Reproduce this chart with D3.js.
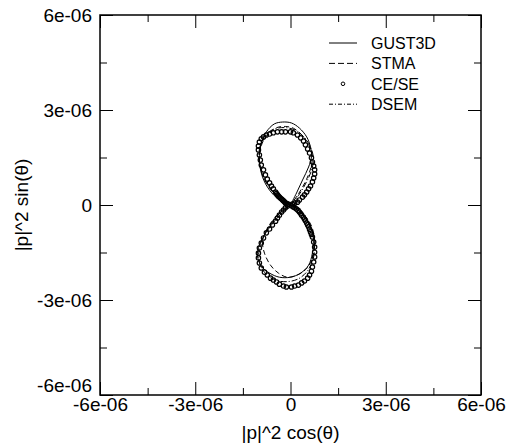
<!DOCTYPE html>
<html>
<head>
<meta charset="utf-8">
<script src="https://cdnjs.cloudflare.com/ajax/libs/d3/7.8.5/d3.min.js"></script>
<style>
    body { margin: 0; background: #fff; }
    text { font-family: "Liberation Sans", Arial, sans-serif; fill: #000; }
</style>
</head>
<body>
<script>
// values are in units of 1e-06 as [x, y]
var UNIT = 1e-6;

var tickValues = [-6, -3, 0, 3, 6];
var tickLabels = ["-6e-06", "-3e-06", "0", "3e-06", "6e-06"];
var minorTicks = [-4.5, -1.5, 1.5, 4.5];

var seriesNames = ["GUST3D", "STMA", "CE/SE", "DSEM"];

var gustUpper = [[0, 0], [-0.35, 0.16], [-0.66, 0.47], [-0.88, 0.88], [-0.98, 1.42], [-0.92, 1.96],
    [-0.76, 2.31], [-0.51, 2.56], [-0.25, 2.62], [0.03, 2.59], [0.28, 2.43], [0.51, 2.15],
    [0.63, 1.83], [0.66, 1.52], [0.57, 1.20], [0.38, 0.79], [0.19, 0.38], [0, 0]];
var gustLower = [[0, 0], [-0.19, -0.16], [-0.47, -0.47], [-0.76, -0.85], [-0.98, -1.26], [-1.04, -1.61],
    [-0.92, -1.93], [-0.66, -2.15], [-0.35, -2.28], [0, -2.28], [0.32, -2.15], [0.57, -1.90],
    [0.69, -1.52], [0.73, -1.11], [0.63, -0.69], [0.41, -0.35], [0.16, -0.09], [0, 0]];

var stmaUpper = [[0, 0], [-0.32, 0.16], [-0.63, 0.50], [-0.88, 0.95], [-0.98, 1.45], [-0.90, 1.93],
    [-0.70, 2.25], [-0.44, 2.44], [-0.16, 2.48], [0.10, 2.42], [0.35, 2.22], [0.55, 1.95],
    [0.68, 1.60], [0.66, 1.25], [0.50, 0.80], [0.25, 0.35], [0, 0]];
var stmaLower = [[0, 0], [-0.25, -0.16], [-0.55, -0.47], [-0.76, -0.80], [-0.88, -1.15], [-0.82, -1.52],
    [-0.63, -1.90], [-0.38, -2.15], [-0.09, -2.28], [0.28, -2.18], [0.57, -1.93], [0.73, -1.52],
    [0.76, -1.11], [0.66, -0.66], [0.44, -0.32], [0.16, -0.06], [0, 0]];

var dsemUpper = [[0, 0], [-0.35, 0.19], [-0.66, 0.55], [-0.90, 1.00], [-1.00, 1.50], [-0.93, 1.95],
    [-0.72, 2.28], [-0.44, 2.42], [-0.13, 2.44], [0.16, 2.36], [0.42, 2.15], [0.62, 1.85],
    [0.72, 1.50], [0.68, 1.15], [0.50, 0.72], [0.25, 0.30], [0, 0]];
var dsemLower = [[0, 0], [-0.30, -0.22], [-0.62, -0.60], [-0.88, -1.05], [-1.00, -1.50], [-0.95, -1.90],
    [-0.75, -2.20], [-0.45, -2.38], [-0.10, -2.42], [0.25, -2.33], [0.52, -2.10], [0.70, -1.75],
    [0.76, -1.35], [0.70, -0.90], [0.50, -0.45], [0.22, -0.12], [0, 0]];

var ceseUpper = [[-0.06, 0.02], [-0.09, 0.03], [-0.13, 0.05], [-0.16, 0.06], [-0.19, 0.10], [-0.22, 0.13],
    [-0.25, 0.16], [-0.28, 0.19], [-0.32, 0.22], [-0.35, 0.25], [-0.38, 0.28], [-0.41, 0.32],
    [-0.44, 0.36], [-0.47, 0.41], [-0.54, 0.51], [-0.60, 0.60], [-0.66, 0.70], [-0.73, 0.82], [-0.79, 0.95],
    [-0.85, 1.11], [-0.92, 1.26], [-0.95, 1.42], [-0.98, 1.58], [-1.01, 1.74], [-1.01, 1.86],
    [-0.98, 1.99], [-0.92, 2.09], [-0.85, 2.15], [-0.76, 2.21], [-0.66, 2.24], [-0.54, 2.28],
    [-0.41, 2.31], [-0.28, 2.31], [-0.16, 2.31], [0.00, 2.31], [0.09, 2.28], [0.22, 2.21],
    [0.32, 2.12], [0.41, 2.02], [0.47, 1.90], [0.54, 1.77], [0.60, 1.64], [0.66, 1.49],
    [0.69, 1.36], [0.73, 1.23], [0.76, 1.11], [0.76, 0.98], [0.73, 0.85], [0.69, 0.73],
    [0.63, 0.60], [0.57, 0.51], [0.51, 0.41], [0.44, 0.32], [0.38, 0.25], [0.28, 0.16],
    [0.22, 0.09], [0.13, 0.06], [0.06, 0.03]];
var ceseLower = [[-0.09, -0.03], [-0.16, -0.09], [-0.22, -0.16], [-0.28, -0.22], [-0.35, -0.32], [-0.41, -0.41],
    [-0.47, -0.51], [-0.57, -0.63], [-0.66, -0.76], [-0.76, -0.88], [-0.85, -1.04], [-0.92, -1.20],
    [-0.98, -1.36], [-1.01, -1.52], [-1.01, -1.67], [-0.98, -1.83], [-0.92, -1.99], [-0.82, -2.12],
    [-0.73, -2.21], [-0.63, -2.31], [-0.54, -2.37], [-0.44, -2.43], [-0.35, -2.50], [-0.22, -2.56],
    [-0.13, -2.59], [0.03, -2.59], [0.13, -2.56], [0.25, -2.53], [0.35, -2.46], [0.44, -2.40],
    [0.54, -2.31], [0.60, -2.21], [0.66, -2.09], [0.69, -1.96], [0.73, -1.80], [0.76, -1.64],
    [0.76, -1.49], [0.76, -1.33], [0.73, -1.17], [0.69, -1.01], [0.66, -0.93], [0.63, -0.85],
    [0.60, -0.77], [0.57, -0.69], [0.54, -0.63], [0.51, -0.57], [0.47, -0.50], [0.44, -0.44],
    [0.40, -0.38], [0.35, -0.32], [0.32, -0.27], [0.28, -0.22], [0.24, -0.17], [0.19, -0.13],
    [0.14, -0.09], [0.09, -0.06], [0.05, -0.03]];

var width = 509, height = 447;
var margin = {top: 15, right: 28, bottom: 52, left: 100};
var plotW = width - margin.left - margin.right,
    plotH = height - margin.top - margin.bottom;

var svg = d3.select("body").append("svg")
        .attr("width", width)
        .attr("height", height);

var g = svg.append("g")
        .attr("transform", "translate(" + margin.left + "," + margin.top + ")");

var x = d3.scaleLinear().domain([-6 * UNIT, 6 * UNIT]).range([0, plotW]);
var y = d3.scaleLinear().domain([-6 * UNIT, 6 * UNIT]).range([plotH, 0]);

//axes with inward ticks, mirrored on top and right
function fmt(d) {
    return tickLabels[tickValues.indexOf(Math.round(d / UNIT))];
}
var major = tickValues.map(function(v) { return v * UNIT; });
var minor = minorTicks.map(function(v) { return v * UNIT; });

function axisPair(axisFn, scale, transform, pad, labels) {
    var a = g.append("g").attr("transform", transform)
            .call(axisFn(scale).tickValues(major).tickSize(-13).tickPadding(pad)
                    .tickFormat(labels ? fmt : function() { return ""; }));
    g.append("g").attr("transform", transform)
            .call(axisFn(scale).tickValues(minor).tickSize(-7)
                    .tickFormat(function() { return ""; }));
    return a;
}

var bottomAx = axisPair(d3.axisBottom, x, "translate(0," + plotH + ")", 2, true);
var leftAx = axisPair(d3.axisLeft, y, "translate(0,0)", 8, true);
axisPair(d3.axisTop, x, "translate(0,0)", 0, false);
axisPair(d3.axisRight, y, "translate(" + plotW + ",0)", 0, false);

g.selectAll(".domain").remove();
g.selectAll(".tick line")
        .attr("stroke", "#000")
        .attr("stroke-width", 1);
bottomAx.selectAll("text").style("font-size", "19px");
leftAx.selectAll("text").style("font-size", "19px").attr("dy", "0.36em");
leftAx.selectAll(".tick").filter(function(d) { return d === -6 * UNIT; })
        .select("text").attr("dy", "-0.2em");

//frame
g.append("rect")
        .attr("x", 0)
        .attr("y", 0)
        .attr("width", plotW)
        .attr("height", plotH)
        .style("fill", "none")
        .style("stroke", "#000")
        .style("stroke-width", "1.5px");

//axis titles
svg.append("text")
        .attr("x", margin.left + plotW / 2)
        .attr("y", 439)
        .attr("text-anchor", "middle")
        .style("font-size", "19px")
        .text("|p|^2 cos(\u03b8)");
svg.append("text")
        .attr("transform", "translate(28," + (margin.top + plotH / 2) + ") rotate(-90)")
        .attr("text-anchor", "middle")
        .style("font-size", "19px")
        .text("|p|^2 sin(\u03b8)");

///////////////////////////////////////////////////////////////////////////
///////////////////////////// Draw the curves /////////////////////////////
///////////////////////////////////////////////////////////////////////////

var line = d3.line()
        .x(function(d) { return x(d[0] * UNIT); })
        .y(function(d) { return y(d[1] * UNIT); })
        .curve(d3.curveCatmullRom);

var lineSeries = [
    {lobes: [gustUpper, gustLower], dash: null},
    {lobes: [stmaUpper, stmaLower], dash: "5,3"},
    {lobes: [dsemUpper, dsemLower], dash: "6,2,1,2"}
];

lineSeries.forEach(function(s) {
    g.append("g")
            .selectAll("path")
            .data(s.lobes)
            .enter().append("path")
            .attr("d", line)
            .attr("fill", "none")
            .attr("stroke", "#000")
            .attr("stroke-width", 1)
            .attr("stroke-dasharray", s.dash);
});

g.append("g")
        .selectAll("circle")
        .data(ceseUpper.concat(ceseLower))
        .enter().append("circle")
        .attr("cx", function(d) { return x(d[0] * UNIT); })
        .attr("cy", function(d) { return y(d[1] * UNIT); })
        .attr("r", 2.2)
        .attr("fill", "none")
        .attr("stroke", "#000")
        .attr("stroke-width", 1.2);

//legend
var legend = svg.append("g").attr("transform", "translate(329,43)");
var rows = legend.selectAll("g")
        .data(seriesNames)
        .enter().append("g")
        .attr("transform", function(d, i) { return "translate(0," + (i * 20.4) + ")"; });

rows.append("text")
        .attr("x", 42)
        .attr("dy", "0.36em")
        .style("font-size", "16px")
        .text(function(d) { return d; });

rows.filter(function(d) { return d !== "CE/SE"; })
        .append("line")
        .attr("x1", 0)
        .attr("x2", 28)
        .attr("stroke", "#000")
        .attr("stroke-width", 1)
        .attr("stroke-dasharray", function(d) {
            return d === "STMA" ? "6,3" : d === "DSEM" ? "4,2,1,2" : null;
        });

rows.filter(function(d) { return d === "CE/SE"; })
        .append("circle")
        .attr("cx", 14)
        .attr("r", 1.8)
        .attr("fill", "none")
        .attr("stroke", "#000");
</script>
</body>
</html>
